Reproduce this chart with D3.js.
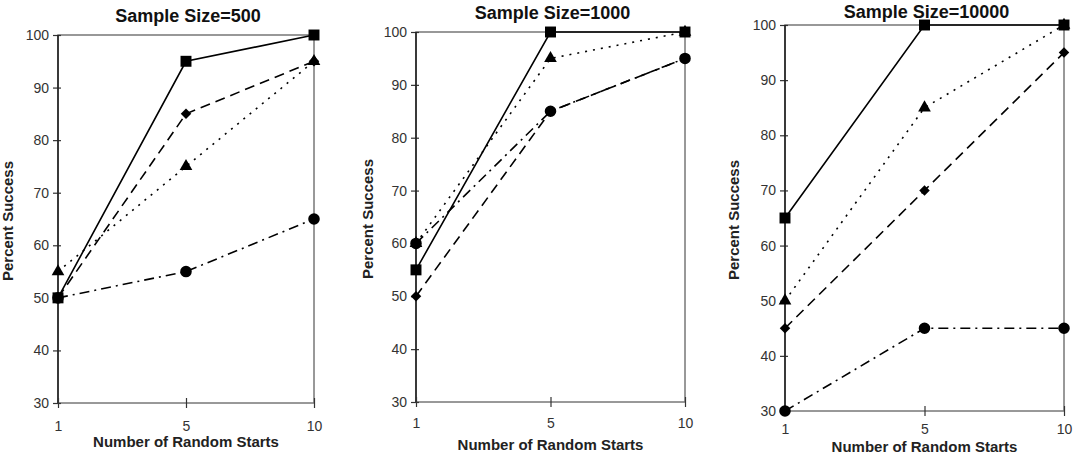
<!DOCTYPE html>
<html>
<head>
<meta charset="utf-8">
<script src="https://cdn.jsdelivr.net/npm/d3@7"></script>
<style>
  body { margin: 0; background: #fff; }
  text { font-family: "Liberation Sans", Arial, sans-serif; }
</style>
</head>
<body>
<div id="chart"></div>
<script>
// data
var starts = ["1", "5", "10"];
var sampleSizes = [500, 1000, 10000];
var yTicks = [30, 40, 50, 60, 70, 80, 90, 100];

// one row per panel, one value per number of random starts
var squareVals   = [[50, 95, 100], [55, 100, 100], [65, 100, 100]];
var diamondVals  = [[50, 85, 95],  [50, 85, 95],   [45, 70, 95]];
var triangleVals = [[55, 75, 95],  [60, 95, 100],  [50, 85, 100]];
var circleVals   = [[50, 55, 65],  [60, 85, 95],   [30, 45, 45]];

var W = 1077, H = 457;

// plot boxes
var panels = [
    {left: 58,  right: 314,  top: 35, bottom: 403, titleY: 22, tickY: 431, labelY: 447, yLabelX: 13},
    {left: 416, right: 685,  top: 32, bottom: 402, titleY: 19, tickY: 428, labelY: 450, yLabelX: 373},
    {left: 785, right: 1064, top: 25, bottom: 411, titleY: 18, tickY: 434, labelY: 452, yLabelX: 739}
];

var series = [
    {name: "circle",   vals: circleVals,   dash: "10,5,2,5", sym: d3.symbolCircle,   size: 105, rot: 0},
    {name: "diamond",  vals: diamondVals,  dash: "10,6",     sym: d3.symbolSquare,   size: 55,  rot: 45},
    {name: "triangle", vals: triangleVals, dash: "2,6",      sym: d3.symbolTriangle, size: 70,  rot: 0},
    {name: "square",   vals: squareVals,   dash: null,       sym: d3.symbolSquare,   size: 120, rot: 0}
];

var svg = d3.select("#chart")
    .append("svg")
    .attr("width", W)
    .attr("height", H);

panels.forEach(function(p, i) {
    var x = d3.scalePoint()
        .domain(starts)
        .range([p.left, p.right]);
    var y = d3.scaleLinear()
        .domain([30, 100])
        .range([p.bottom, p.top]);

    var g = svg.append("g");

    // frame
    g.append("rect")
        .attr("x", p.left)
        .attr("y", p.top)
        .attr("width", p.right - p.left)
        .attr("height", p.bottom - p.top)
        .attr("fill", "none")
        .attr("stroke", "#777")
        .attr("stroke-width", 1.5);

    // y axis
    var yAxis = g.append("g")
        .attr("transform", "translate(" + p.left + ",0)")
        .call(d3.axisLeft(y).tickValues(yTicks).tickSize(5).tickPadding(4));
    yAxis.select(".domain").remove();
    yAxis.selectAll(".tick line").attr("x1", 3).attr("stroke", "#333").attr("stroke-width", 1.2);
    yAxis.selectAll(".tick text")
        .style("font-size", "14px")
        .attr("fill", "#333");
    g.append("line")
        .attr("x1", p.left).attr("x2", p.left)
        .attr("y1", p.top).attr("y2", p.bottom)
        .attr("stroke", "#222")
        .attr("stroke-width", 1.6);

    // x axis
    var xAxis = g.append("g")
        .attr("transform", "translate(0," + p.bottom + ")")
        .call(d3.axisBottom(x).tickSize(5).tickSizeOuter(0));
    xAxis.select(".domain").remove();
    xAxis.selectAll(".tick line").attr("y1", -5).attr("stroke", "#333").attr("stroke-width", 1.2);
    xAxis.selectAll(".tick text")
        .attr("y", p.tickY - p.bottom)
        .attr("dy", 0)
        .style("font-size", "14px")
        .attr("fill", "#333");

    // titles
    g.append("text")
        .attr("x", (p.left + p.right) / 2 + 2)
        .attr("y", p.titleY)
        .attr("text-anchor", "middle")
        .style("font-size", "18px")
        .style("font-weight", "bold")
        .attr("fill", "#111")
        .text("Sample Size=" + sampleSizes[i]);

    g.append("text")
        .attr("x", (p.left + p.right) / 2)
        .attr("y", p.labelY)
        .attr("text-anchor", "middle")
        .style("font-size", "15px")
        .style("font-weight", "bold")
        .attr("fill", "#222")
        .text("Number of Random Starts");

    g.append("text")
        .attr("transform", "translate(" + p.yLabelX + "," + ((p.top + p.bottom) / 2 + 2) + ") rotate(-90)")
        .attr("text-anchor", "middle")
        .style("font-size", "15px")
        .style("font-weight", "bold")
        .attr("fill", "#222")
        .text("Percent Success");

    // lines
    var line = d3.line()
        .x(function(d, j) { return x(starts[j]); })
        .y(function(d) { return y(d); });

    series.forEach(function(s) {
        g.append("path")
            .datum(s.vals[i])
            .attr("d", line)
            .attr("fill", "none")
            .attr("stroke", "#000")
            .attr("stroke-width", 1.6)
            .attr("stroke-dasharray", s.dash);
    });

    // markers on top
    series.forEach(function(s) {
        g.selectAll(".m-" + s.name)
            .data(s.vals[i])
            .enter()
            .append("path")
            .attr("class", "m-" + s.name)
            .attr("d", d3.symbol().type(s.sym).size(s.size))
            .attr("transform", function(d, j) {
                return "translate(" + x(starts[j]) + "," + y(d) + ") rotate(" + s.rot + ")";
            })
            .attr("fill", "#000");
    });
});
</script>
</body>
</html>
